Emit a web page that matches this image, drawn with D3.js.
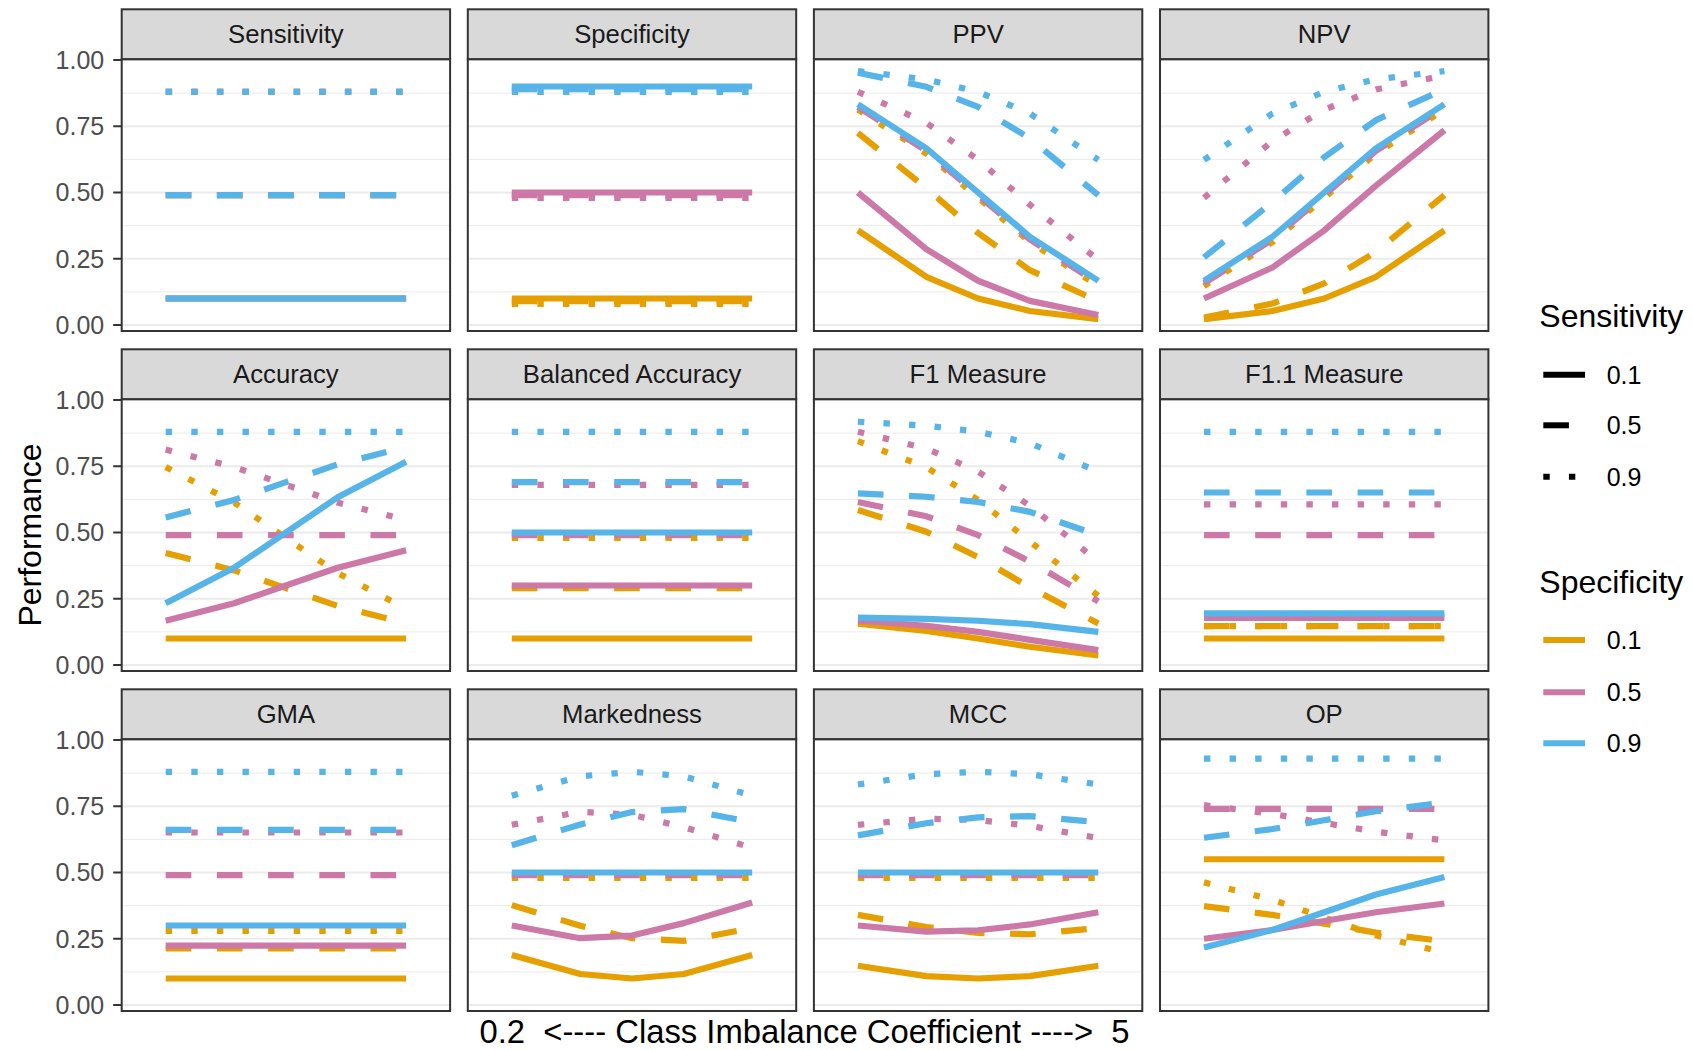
<!DOCTYPE html>
<html><head><meta charset="utf-8">
<script src="https://cdn.jsdelivr.net/npm/d3@7"></script>
<style>
html,body{margin:0;padding:0;background:#fff;}
svg{display:block;font-family:"Liberation Sans",Arial,Helvetica,sans-serif;}
</style>
</head><body>
<svg id="chart" width="1693" height="1050"></svg>
<script>
// ---------------- DATA ----------------
const imbalance = [0.2, 0.5, 1, 2, 5];          // class imbalance coefficient (x)
const metricNames = ["Sensitivity","Specificity","PPV","NPV",
                     "Accuracy","Balanced Accuracy","F1 Measure","F1.1 Measure",
                     "GMA","Markedness","MCC","OP"];
const sensLevels = ["0.1","0.5","0.9"];           // linetype
const specLevels = ["0.1","0.5","0.9"];           // colour
// each metric: 9 series, ordered spec 0.1 (sens 0.1,0.5,0.9), spec 0.5 (...), spec 0.9 (...)
const sensitivity = [
  [0.1,0.1,0.1,0.1,0.1],[0.5,0.5,0.5,0.5,0.5],[0.9,0.9,0.9,0.9,0.9],
  [0.1,0.1,0.1,0.1,0.1],[0.5,0.5,0.5,0.5,0.5],[0.9,0.9,0.9,0.9,0.9],
  [0.1,0.1,0.1,0.1,0.1],[0.5,0.5,0.5,0.5,0.5],[0.9,0.9,0.9,0.9,0.9]];
const specificity = [
  [0.1,0.1,0.1,0.1,0.1],[0.1,0.1,0.1,0.1,0.1],[0.1,0.1,0.1,0.1,0.1],
  [0.5,0.5,0.5,0.5,0.5],[0.5,0.5,0.5,0.5,0.5],[0.5,0.5,0.5,0.5,0.5],
  [0.9,0.9,0.9,0.9,0.9],[0.9,0.9,0.9,0.9,0.9],[0.9,0.9,0.9,0.9,0.9]];
const ppv = [
  [0.357,0.182,0.100,0.053,0.022],[0.735,0.526,0.357,0.217,0.100],[0.833,0.667,0.500,0.333,0.167],
  [0.500,0.286,0.167,0.091,0.038],[0.833,0.667,0.500,0.333,0.167],[0.900,0.783,0.643,0.474,0.265],
  [0.833,0.667,0.500,0.333,0.167],[0.962,0.909,0.833,0.714,0.500],[0.978,0.947,0.900,0.818,0.643]];
const npv = [
  [0.022,0.053,0.100,0.182,0.357],[0.038,0.091,0.167,0.286,0.500],[0.167,0.333,0.500,0.667,0.833],
  [0.100,0.217,0.357,0.526,0.735],[0.167,0.333,0.500,0.667,0.833],[0.500,0.714,0.833,0.909,0.962],
  [0.167,0.333,0.500,0.667,0.833],[0.265,0.474,0.643,0.783,0.900],[0.643,0.818,0.900,0.947,0.978]];
const accuracy = [
  [0.100,0.100,0.100,0.100,0.100],[0.433,0.367,0.300,0.233,0.167],[0.767,0.633,0.500,0.367,0.233],
  [0.167,0.233,0.300,0.367,0.433],[0.500,0.500,0.500,0.500,0.500],[0.833,0.767,0.700,0.633,0.567],
  [0.233,0.367,0.500,0.633,0.767],[0.567,0.633,0.700,0.767,0.833],[0.900,0.900,0.900,0.900,0.900]];
const balancedAccuracy = [
  [0.1,0.1,0.1,0.1,0.1],[0.3,0.3,0.3,0.3,0.3],[0.5,0.5,0.5,0.5,0.5],
  [0.3,0.3,0.3,0.3,0.3],[0.5,0.5,0.5,0.5,0.5],[0.7,0.7,0.7,0.7,0.7],
  [0.5,0.5,0.5,0.5,0.5],[0.7,0.7,0.7,0.7,0.7],[0.9,0.9,0.9,0.9,0.9]];
const f1Measure = [
  [0.156,0.129,0.100,0.069,0.036],[0.595,0.513,0.417,0.303,0.167],[0.865,0.766,0.643,0.486,0.281],
  [0.167,0.148,0.125,0.095,0.056],[0.625,0.571,0.500,0.400,0.250],[0.900,0.837,0.750,0.621,0.409],
  [0.179,0.174,0.167,0.154,0.125],[0.658,0.645,0.625,0.588,0.500],[0.938,0.923,0.900,0.857,0.750]];
const f11Measure = [
  [0.100,0.100,0.100,0.100,0.100],[0.157,0.157,0.157,0.157,0.157],[0.167,0.167,0.167,0.167,0.167],
  [0.178,0.178,0.178,0.178,0.178],[0.500,0.500,0.500,0.500,0.500],[0.626,0.626,0.626,0.626,0.626],
  [0.195,0.195,0.195,0.195,0.195],[0.661,0.661,0.661,0.661,0.661],[0.900,0.900,0.900,0.900,0.900]];
const gma = [
  [0.100,0.100,0.100,0.100,0.100],[0.224,0.224,0.224,0.224,0.224],[0.300,0.300,0.300,0.300,0.300],
  [0.224,0.224,0.224,0.224,0.224],[0.500,0.500,0.500,0.500,0.500],[0.671,0.671,0.671,0.671,0.671],
  [0.300,0.300,0.300,0.300,0.300],[0.671,0.671,0.671,0.671,0.671],[0.900,0.900,0.900,0.900,0.900]];
const markedness = [
  [0.189,0.117,0.100,0.117,0.189],[0.387,0.309,0.262,0.252,0.300],[0.500,0.500,0.500,0.500,0.500],
  [0.300,0.252,0.262,0.309,0.387],[0.500,0.500,0.500,0.500,0.500],[0.700,0.749,0.738,0.691,0.613],
  [0.500,0.500,0.500,0.500,0.500],[0.613,0.691,0.738,0.749,0.700],[0.810,0.883,0.900,0.883,0.810]];
const mcc = [
  [0.148,0.109,0.100,0.109,0.148],[0.350,0.304,0.282,0.277,0.300],[0.500,0.500,0.500,0.500,0.500],
  [0.300,0.277,0.282,0.304,0.350],[0.500,0.500,0.500,0.500,0.500],[0.700,0.723,0.718,0.696,0.650],
  [0.500,0.500,0.500,0.500,0.500],[0.650,0.696,0.718,0.723,0.700],[0.852,0.891,0.900,0.891,0.852]];
const op = [
  [0.550,0.550,0.550,0.550,0.550],[0.383,0.350,0.317,0.283,0.250],[0.483,0.417,0.350,0.283,0.217],
  [0.250,0.283,0.317,0.350,0.383],[0.750,0.750,0.750,0.750,0.750],[0.774,0.741,0.707,0.674,0.641],
  [0.217,0.283,0.350,0.417,0.483],[0.641,0.674,0.707,0.741,0.774],[0.950,0.950,0.950,0.950,0.950]];
const yTicks = [0, 0.25, 0.5, 0.75, 1];
const yTickLabels = ["0.00","0.25","0.50","0.75","1.00"];
const yMinor = [0.125, 0.375, 0.625, 0.875];
const xTitle = "0.2  <---- Class Imbalance Coefficient ---->  5";
const yTitle = "Performance";

const metricValues = [sensitivity, specificity, ppv, npv, accuracy, balancedAccuracy,
                      f1Measure, f11Measure, gma, markedness, mcc, op];

// ---------------- STYLE / LAYOUT ----------------
const specColors = ["#E69F00","#CC79A7","#56B4E9"];
const sensDash = [null, "25.6,25.6", "6.4,19.2"];
const sensNudge = [0, -0.01, -0.02];   // vertical nudge so overlapping lines stay visible
const LW = 6.2;
const colX0 = 121.7, colStep = 346.1, panelW = 328.4;
const rowY0 = 9.3, rowStep = 340, stripH = 50, panelH = 271.7;

const svg = d3.select("#chart");
const x = d3.scaleLog().domain([0.2, 5]).range([44, 284.4]);
const y = d3.scaleLinear().domain([0, 1]).range([265.7, 0.7]);

metricNames.forEach((name, k) => {
  const col = k % 4, row = Math.floor(k / 4);
  const px = colX0 + col * colStep;
  const sy = rowY0 + row * rowStep;
  const py = sy + stripH;
  // strip
  const s = svg.append("g").attr("transform", `translate(${px},${sy})`);
  s.append("rect").attr("width", panelW).attr("height", stripH)
    .attr("fill", "#D9D9D9").attr("stroke", "#333333").attr("stroke-width", 2);
  s.append("text").attr("x", panelW / 2).attr("y", stripH / 2 + 9)
    .attr("text-anchor", "middle").attr("font-size", 25.7).attr("fill", "#1A1A1A").text(name);

  const g = svg.append("g").attr("transform", `translate(${px},${py})`);
  g.append("rect").attr("width", panelW).attr("height", panelH).attr("fill", "#fff");
  g.selectAll("line.minor").data(yMinor).join("line")
    .attr("x1", 0).attr("x2", panelW).attr("y1", d => y(d)).attr("y2", d => y(d))
    .attr("stroke", "#EBEBEB").attr("stroke-width", 1);
  g.selectAll("line.major").data(yTicks).join("line")
    .attr("x1", 0).attr("x2", panelW).attr("y1", d => y(d)).attr("y2", d => y(d))
    .attr("stroke", "#EBEBEB").attr("stroke-width", 2);

  const series = metricValues[k];
  series.forEach((vals, i) => {
    const ti = Math.floor(i / 3), si = i % 3;
    const line = d3.line()
      .x((d, j) => x(imbalance[j]))
      .y(d => y(d + sensNudge[si]));
    g.append("path").attr("d", line(vals))
      .attr("fill", "none").attr("stroke", specColors[ti])
      .attr("stroke-width", LW).attr("stroke-linecap", "butt").attr("stroke-linejoin", "round")
      .attr("stroke-dasharray", sensDash[si]);
  });
  g.append("rect").attr("width", panelW).attr("height", panelH)
    .attr("fill", "none").attr("stroke", "#333333").attr("stroke-width", 2);

  if (col === 0) {
    const ax = g.append("g");
    yTicks.forEach((t, i) => {
      ax.append("line").attr("x1", -8.5).attr("x2", 0).attr("y1", y(t)).attr("y2", y(t))
        .attr("stroke", "#333333").attr("stroke-width", 2);
      ax.append("text").attr("x", -17.5).attr("y", y(t) + 9).attr("text-anchor", "end")
        .attr("font-size", 25).attr("fill", "#4D4D4D").text(yTickLabels[i]);
    });
  }
});

// axis titles
svg.append("text").attr("transform", "translate(41,535) rotate(-90)")
  .attr("text-anchor", "middle").attr("font-size", 32).attr("fill", "#000").text(yTitle);
svg.append("text").attr("x", 804.5).attr("y", 1043).attr("text-anchor", "middle")
  .attr("font-size", 32.8).attr("fill", "#000").style("white-space", "pre").text(xTitle);

// legends
function legend(title, titleY, rowsY, keyStyle) {
  const lg = svg.append("g");
  lg.append("text").attr("x", 1539.3).attr("y", titleY).attr("font-size", 32).attr("fill", "#000").text(title);
  rowsY.forEach((ry, i) => {
    const st = keyStyle(i);
    lg.append("line").attr("x1", 1543.3).attr("x2", 1585).attr("y1", ry).attr("y2", ry)
      .attr("stroke", st.color).attr("stroke-width", 6).attr("stroke-linecap", "butt")
      .attr("stroke-dasharray", st.dash);
    lg.append("text").attr("x", 1606.7).attr("y", ry + 9).attr("font-size", 25).attr("fill", "#000").text(st.label);
  });
}
legend("Sensitivity", 326.7, [374.7, 425.3, 476.7], i => ({color: "#000", dash: sensDash[i], label: sensLevels[i]}));
legend("Specificity", 593, [640, 692.3, 743.3], i => ({color: specColors[i], dash: null, label: specLevels[i]}));
</script>
</body></html>
